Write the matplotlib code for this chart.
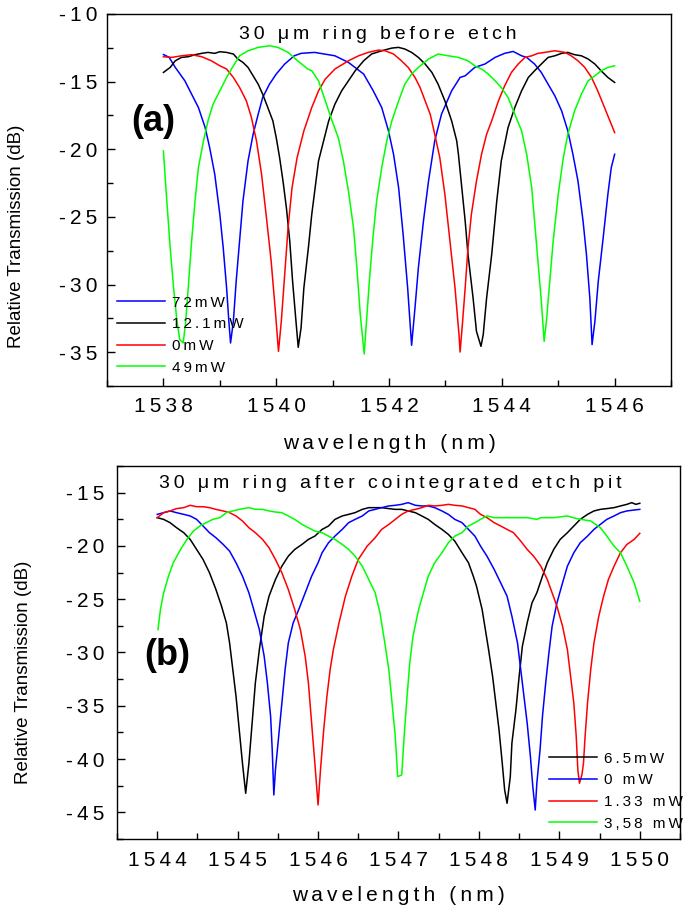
import numpy as np
import matplotlib
matplotlib.use('Agg')
import matplotlib.pyplot as plt
from matplotlib.ticker import MultipleLocator, FuncFormatter

plt.rcParams['font.family'] = ['Liberation Sans', 'DejaVu Sans']

# ---- data: (wavelength nm, transmission dB) ----
# panel (a): 30 um ring before etch
a_72mW = [(1538.00, -13.0), (1538.10, -13.2), (1538.21, -13.95), (1538.38, -14.94), (1538.50, -15.93),
          (1538.62, -16.91), (1538.74, -18.40), (1538.82, -19.88), (1538.91, -21.85), (1539.00, -24.81),
          (1539.06, -27.28), (1539.12, -30.25), (1539.16, -32.72), (1539.19, -34.32), (1539.24, -32.72),
          (1539.29, -29.75), (1539.35, -26.79), (1539.41, -23.83), (1539.50, -20.86), (1539.59, -18.89),
          (1539.68, -17.41), (1539.76, -16.17), (1539.88, -15.19), (1540.00, -14.44), (1540.15, -13.70),
          (1540.32, -13.09), (1540.44, -12.91), (1540.68, -12.84), (1541.04, -13.09), (1541.28, -13.58),
          (1541.55, -14.44), (1541.72, -15.68), (1541.87, -16.91), (1541.99, -18.64), (1542.08, -20.37),
          (1542.17, -22.84), (1542.25, -26.30), (1542.33, -30.25), (1542.40, -34.49), (1542.46, -31.73),
          (1542.52, -28.77), (1542.61, -25.31), (1542.70, -22.35), (1542.81, -19.38), (1542.93, -17.41),
          (1543.11, -15.68), (1543.26, -14.69), (1543.35, -14.57), (1543.52, -13.95), (1543.70, -13.70),
          (1543.88, -13.21), (1544.05, -12.91), (1544.20, -12.77), (1544.35, -13.09), (1544.44, -13.21),
          (1544.58, -13.70), (1544.70, -14.32), (1544.82, -15.19), (1544.94, -16.05), (1545.06, -17.16),
          (1545.17, -18.64), (1545.26, -20.37), (1545.35, -22.35), (1545.44, -25.31), (1545.50, -27.78),
          (1545.56, -30.99), (1545.60, -34.44), (1545.65, -32.72), (1545.71, -29.75), (1545.79, -26.79),
          (1545.88, -23.33), (1545.94, -21.36), (1546.00, -20.37)]

a_12mW = [(1538.00, -14.32), (1538.12, -13.95), (1538.21, -13.46), (1538.32, -13.21), (1538.44, -13.16),
          (1538.56, -13.01), (1538.68, -12.91), (1538.79, -12.84), (1538.91, -12.91), (1539.00, -12.79),
          (1539.12, -12.84), (1539.24, -12.96), (1539.32, -13.33), (1539.41, -13.58), (1539.50, -13.95),
          (1539.59, -14.57), (1539.68, -15.19), (1539.76, -15.93), (1539.85, -16.91), (1539.94, -17.90),
          (1540.00, -19.14), (1540.06, -20.62), (1540.12, -22.35), (1540.18, -24.32), (1540.24, -26.79),
          (1540.29, -29.75), (1540.35, -32.72), (1540.39, -34.64), (1540.44, -33.21), (1540.49, -30.25),
          (1540.57, -27.28), (1540.63, -24.81), (1540.69, -22.84), (1540.75, -20.86), (1540.84, -19.38),
          (1540.93, -17.90), (1541.04, -16.67), (1541.16, -15.68), (1541.28, -14.94), (1541.40, -14.20),
          (1541.55, -13.46), (1541.69, -12.96), (1541.87, -12.72), (1542.05, -12.52), (1542.17, -12.47),
          (1542.28, -12.59), (1542.40, -12.84), (1542.52, -13.21), (1542.64, -13.70), (1542.76, -14.32),
          (1542.87, -15.19), (1542.99, -16.42), (1543.11, -17.90), (1543.20, -19.38), (1543.23, -20.37),
          (1543.29, -22.84), (1543.35, -25.31), (1543.40, -27.78), (1543.49, -30.99), (1543.55, -33.46),
          (1543.63, -34.57), (1543.67, -33.70), (1543.73, -30.99), (1543.82, -27.78), (1543.91, -23.83),
          (1543.99, -20.86), (1544.11, -18.40), (1544.23, -16.91), (1544.35, -15.68), (1544.47, -14.69),
          (1544.58, -14.20), (1544.70, -13.70), (1544.82, -13.21), (1544.94, -13.09), (1545.06, -12.91),
          (1545.17, -12.84), (1545.29, -13.01), (1545.41, -13.09), (1545.53, -13.33), (1545.65, -13.70),
          (1545.76, -14.20), (1545.88, -14.69), (1546.00, -15.06)]

a_0mW = [(1538.00, -13.16), (1538.15, -13.21), (1538.32, -13.09), (1538.50, -13.01), (1538.68, -13.16),
         (1538.85, -13.46), (1539.00, -13.83), (1539.12, -14.07), (1539.24, -14.69), (1539.35, -15.43),
         (1539.47, -16.42), (1539.56, -17.65), (1539.65, -19.38), (1539.74, -21.85), (1539.82, -24.81),
         (1539.91, -28.27), (1539.98, -31.73), (1540.04, -34.94), (1540.09, -32.72), (1540.15, -29.26),
         (1540.21, -25.80), (1540.28, -22.84), (1540.37, -20.62), (1540.49, -18.64), (1540.63, -16.91),
         (1540.75, -15.68), (1540.87, -14.81), (1541.04, -14.07), (1541.28, -13.46), (1541.46, -13.09),
         (1541.63, -12.84), (1541.81, -12.67), (1541.93, -12.72), (1542.08, -12.96), (1542.22, -13.46),
         (1542.34, -13.95), (1542.46, -14.69), (1542.55, -15.43), (1542.64, -16.42), (1542.73, -17.41),
         (1542.81, -18.89), (1542.90, -20.62), (1542.99, -23.33), (1543.08, -26.79), (1543.17, -30.25),
         (1543.24, -33.70), (1543.26, -34.99), (1543.30, -32.96), (1543.35, -30.25), (1543.40, -27.28),
         (1543.46, -24.81), (1543.55, -22.35), (1543.64, -20.37), (1543.73, -18.89), (1543.82, -17.90),
         (1543.94, -16.42), (1544.05, -15.31), (1544.17, -14.32), (1544.29, -13.70), (1544.41, -13.21),
         (1544.53, -13.09), (1544.64, -12.91), (1544.76, -12.84), (1544.94, -12.72), (1545.12, -12.84),
         (1545.23, -13.09), (1545.35, -13.46), (1545.47, -13.95), (1545.59, -14.69), (1545.70, -15.68),
         (1545.82, -16.91), (1545.94, -18.15), (1546.00, -18.77)]

a_49mW = [(1538.00, -20.12), (1538.06, -23.83), (1538.12, -27.28), (1538.18, -30.25), (1538.24, -32.72),
          (1538.29, -34.07), (1538.35, -34.32), (1538.39, -32.96), (1538.44, -30.25), (1538.50, -26.79),
          (1538.56, -23.83), (1538.62, -21.36), (1538.71, -19.38), (1538.79, -17.90), (1538.88, -16.67),
          (1539.00, -15.68), (1539.12, -14.69), (1539.24, -13.83), (1539.35, -13.09), (1539.50, -12.72),
          (1539.68, -12.47), (1539.88, -12.35), (1540.03, -12.47), (1540.21, -12.84), (1540.38, -13.46),
          (1540.56, -14.07), (1540.63, -14.20), (1540.75, -14.94), (1540.87, -16.42), (1540.99, -17.90),
          (1541.10, -19.14), (1541.19, -20.86), (1541.28, -23.09), (1541.37, -25.80), (1541.43, -28.77),
          (1541.49, -32.22), (1541.56, -35.14), (1541.60, -32.72), (1541.66, -29.26), (1541.72, -26.30),
          (1541.78, -23.83), (1541.87, -21.36), (1541.96, -19.38), (1542.05, -17.90), (1542.17, -16.42),
          (1542.28, -15.19), (1542.40, -14.44), (1542.52, -13.95), (1542.70, -13.33), (1542.87, -12.96),
          (1543.05, -13.09), (1543.23, -13.21), (1543.40, -13.46), (1543.52, -13.83), (1543.64, -14.07),
          (1543.76, -14.44), (1543.88, -14.94), (1543.99, -15.43), (1544.11, -16.17), (1544.23, -17.41),
          (1544.35, -18.64), (1544.44, -20.37), (1544.53, -22.84), (1544.58, -25.31), (1544.64, -28.27),
          (1544.70, -31.23), (1544.75, -34.20), (1544.79, -32.72), (1544.85, -29.75), (1544.91, -26.79),
          (1545.00, -23.33), (1545.09, -20.62), (1545.17, -18.89), (1545.29, -17.16), (1545.41, -15.93),
          (1545.53, -14.94), (1545.65, -14.57), (1545.76, -14.20), (1545.88, -13.95), (1546.00, -13.83)]

# panel (b): 30 um ring after cointegrated etch pit
b_6p5mW = [(1544.00, -17.35), (1544.08, -17.51), (1544.16, -17.82), (1544.24, -18.29), (1544.33, -18.76),
           (1544.41, -19.39), (1544.49, -20.33), (1544.57, -21.27), (1544.65, -22.52), (1544.73, -24.09),
           (1544.80, -25.66), (1544.86, -27.23), (1544.90, -29.11), (1544.94, -31.61), (1544.98, -34.12),
           (1545.02, -37.26), (1545.06, -40.39), (1545.10, -43.21), (1545.14, -40.39), (1545.18, -36.63),
           (1545.22, -32.87), (1545.27, -29.73), (1545.33, -26.60), (1545.39, -24.72), (1545.47, -23.15),
           (1545.55, -21.90), (1545.63, -20.96), (1545.71, -20.33), (1545.80, -19.86), (1545.88, -19.39),
           (1545.96, -19.08), (1546.05, -18.45), (1546.13, -18.13), (1546.21, -17.51), (1546.30, -17.19),
           (1546.38, -17.04), (1546.46, -16.88), (1546.55, -16.57), (1546.63, -16.41), (1546.71, -16.41),
           (1546.79, -16.41), (1546.88, -16.50), (1546.96, -16.57), (1547.04, -16.57), (1547.12, -16.72),
           (1547.21, -16.88), (1547.29, -17.19), (1547.37, -17.51), (1547.45, -17.98), (1547.54, -18.45),
           (1547.62, -18.92), (1547.70, -19.55), (1547.79, -20.64), (1547.87, -21.58), (1547.93, -22.84),
           (1547.97, -23.78), (1548.04, -25.97), (1548.08, -27.85), (1548.12, -29.73), (1548.17, -32.24),
           (1548.21, -34.75), (1548.25, -37.26), (1548.29, -40.39), (1548.32, -42.90), (1548.35, -44.15),
           (1548.39, -41.65), (1548.41, -38.51), (1548.46, -35.38), (1548.50, -32.24), (1548.54, -29.42),
           (1548.60, -27.23), (1548.66, -25.34), (1548.72, -24.40), (1548.79, -22.84), (1548.85, -21.58),
           (1548.93, -20.33), (1549.01, -19.39), (1549.10, -18.76), (1549.18, -18.13), (1549.26, -17.51),
           (1549.35, -17.04), (1549.43, -16.72), (1549.51, -16.57), (1549.59, -16.50), (1549.68, -16.41),
           (1549.76, -16.25), (1549.84, -16.10), (1549.90, -15.94), (1549.95, -16.10), (1550.00, -16.00)]

b_0mW = [(1544.00, -17.04), (1544.08, -16.88), (1544.16, -16.72), (1544.24, -16.88), (1544.33, -17.04),
         (1544.41, -17.19), (1544.49, -17.51), (1544.57, -18.13), (1544.65, -18.76), (1544.73, -19.23),
         (1544.82, -19.86), (1544.90, -20.49), (1544.98, -21.58), (1545.06, -22.84), (1545.14, -24.40),
         (1545.20, -25.97), (1545.27, -27.85), (1545.33, -30.36), (1545.37, -32.87), (1545.41, -36.00),
         (1545.43, -39.14), (1545.45, -43.37), (1545.47, -41.02), (1545.51, -37.88), (1545.55, -34.75),
         (1545.59, -31.61), (1545.63, -29.11), (1545.69, -27.23), (1545.76, -25.97), (1545.84, -24.40),
         (1545.92, -22.84), (1546.00, -21.58), (1546.05, -20.64), (1546.13, -19.70), (1546.21, -19.08),
         (1546.30, -18.45), (1546.38, -17.82), (1546.46, -17.51), (1546.55, -17.19), (1546.63, -16.72),
         (1546.71, -16.57), (1546.79, -16.41), (1546.88, -16.25), (1546.96, -16.19), (1547.04, -16.10),
         (1547.12, -15.94), (1547.21, -16.19), (1547.29, -16.25), (1547.37, -16.25), (1547.45, -16.41),
         (1547.54, -16.72), (1547.62, -17.04), (1547.70, -17.51), (1547.79, -17.82), (1547.87, -18.45),
         (1547.95, -19.08), (1548.02, -20.02), (1548.10, -20.96), (1548.19, -22.21), (1548.27, -23.46),
         (1548.35, -24.72), (1548.41, -26.60), (1548.48, -29.11), (1548.52, -31.61), (1548.56, -34.12),
         (1548.60, -36.63), (1548.64, -39.76), (1548.67, -42.59), (1548.70, -44.78), (1548.72, -42.27),
         (1548.76, -39.14), (1548.79, -36.00), (1548.83, -32.87), (1548.87, -30.05), (1548.91, -27.54),
         (1548.97, -25.34), (1549.04, -23.46), (1549.10, -21.90), (1549.18, -20.64), (1549.26, -19.70),
         (1549.35, -19.08), (1549.43, -18.45), (1549.51, -17.98), (1549.59, -17.51), (1549.68, -17.19),
         (1549.76, -16.88), (1549.84, -16.72), (1549.93, -16.63), (1550.00, -16.57)]

b_1p33mW = [(1544.00, -17.35), (1544.08, -16.88), (1544.16, -16.72), (1544.24, -16.50), (1544.33, -16.41),
            (1544.41, -16.19), (1544.49, -16.32), (1544.57, -16.32), (1544.65, -16.41), (1544.73, -16.57),
            (1544.82, -16.72), (1544.90, -16.88), (1544.98, -17.19), (1545.06, -17.66), (1545.14, -18.29),
            (1545.22, -18.76), (1545.31, -19.39), (1545.39, -20.17), (1545.47, -21.27), (1545.55, -22.52),
            (1545.63, -24.09), (1545.71, -25.97), (1545.78, -27.85), (1545.84, -30.36), (1545.88, -32.87),
            (1545.92, -36.63), (1545.96, -40.39), (1546.00, -44.31), (1546.03, -41.02), (1546.07, -37.26),
            (1546.11, -34.12), (1546.15, -31.61), (1546.19, -29.73), (1546.26, -27.23), (1546.34, -24.72),
            (1546.42, -22.84), (1546.50, -21.27), (1546.61, -20.02), (1546.71, -19.23), (1546.79, -18.45),
            (1546.88, -17.98), (1546.96, -17.51), (1547.04, -17.04), (1547.12, -16.72), (1547.21, -16.57),
            (1547.29, -16.41), (1547.37, -16.19), (1547.45, -16.25), (1547.54, -16.19), (1547.62, -16.10),
            (1547.70, -16.19), (1547.79, -16.25), (1547.87, -16.41), (1547.95, -16.57), (1548.02, -17.04),
            (1548.10, -17.35), (1548.19, -17.82), (1548.27, -18.13), (1548.35, -18.45), (1548.43, -18.76),
            (1548.52, -19.55), (1548.60, -20.33), (1548.68, -20.96), (1548.77, -21.90), (1548.85, -23.15),
            (1548.91, -24.40), (1548.97, -25.66), (1549.04, -27.54), (1549.10, -29.73), (1549.14, -32.24),
            (1549.18, -34.75), (1549.21, -37.88), (1549.23, -41.02), (1549.25, -42.27), (1549.28, -41.49),
            (1549.30, -40.39), (1549.32, -37.88), (1549.35, -34.75), (1549.39, -31.61), (1549.43, -29.11),
            (1549.49, -26.60), (1549.55, -24.72), (1549.61, -23.15), (1549.68, -21.90), (1549.76, -20.64),
            (1549.84, -19.86), (1549.93, -19.39), (1550.00, -18.82)]

b_3p58mW = [(1544.01, -27.85), (1544.04, -25.97), (1544.08, -24.40), (1544.14, -22.84), (1544.20, -21.58),
            (1544.29, -20.33), (1544.37, -19.39), (1544.45, -18.61), (1544.53, -18.13), (1544.61, -17.82),
            (1544.69, -17.51), (1544.78, -17.35), (1544.86, -16.88), (1544.94, -16.72), (1545.02, -16.57),
            (1545.14, -16.41), (1545.22, -16.57), (1545.31, -16.57), (1545.39, -16.72), (1545.47, -16.82),
            (1545.55, -16.88), (1545.63, -17.19), (1545.71, -17.51), (1545.80, -17.98), (1545.88, -18.29),
            (1545.96, -18.61), (1546.05, -18.76), (1546.13, -19.08), (1546.21, -19.39), (1546.30, -19.86),
            (1546.38, -20.33), (1546.46, -20.96), (1546.55, -21.90), (1546.63, -23.15), (1546.71, -24.40),
            (1546.77, -26.29), (1546.83, -29.11), (1546.88, -31.61), (1546.92, -34.75), (1546.96, -37.88),
            (1546.99, -41.65), (1547.04, -41.49), (1547.07, -37.88), (1547.10, -34.75), (1547.14, -30.99),
            (1547.18, -28.48), (1547.25, -25.97), (1547.31, -24.40), (1547.37, -22.84), (1547.45, -21.58),
            (1547.54, -20.64), (1547.62, -19.70), (1547.70, -19.08), (1547.79, -18.76), (1547.87, -18.13),
            (1547.95, -17.82), (1548.02, -17.51), (1548.10, -17.19), (1548.19, -17.35), (1548.27, -17.35),
            (1548.43, -17.35), (1548.60, -17.35), (1548.72, -17.51), (1548.77, -17.35), (1548.93, -17.35),
            (1549.10, -17.19), (1549.22, -17.45), (1549.39, -17.66), (1549.51, -18.29), (1549.59, -19.08),
            (1549.68, -20.02), (1549.76, -20.64), (1549.84, -21.90), (1549.93, -23.46), (1550.00, -25.19)]

a_series = [(a_72mW, 'blue', '72mW'), (a_12mW, 'black', '12.1mW'),
            (a_0mW, 'red', '0mW'), (a_49mW, '#00ff00', '49mW')]
b_series = [(b_6p5mW, 'black', '6.5mW'), (b_0mW, 'blue', '0 mW'),
            (b_1p33mW, 'red', '1.33 mW'), (b_3p58mW, '#00ff00', '3,58 mW')]


def spaced(s):
    # the original uses wide letter spacing
    return '\u2009'.join(s)


tick_fmt = FuncFormatter(lambda v, p: spaced('%g' % v))

fig = plt.figure(figsize=(6.83, 9.08), dpi=100)
ax1 = fig.add_axes([0.1567, 0.5749, 0.8258, 0.4097])
ax2 = fig.add_axes([0.1713, 0.0760, 0.8243, 0.4108])

for ax, series in [(ax1, a_series), (ax2, b_series)]:
    for pts, col, lab in series:
        arr = np.array(pts)
        ax.plot(arr[:, 0], arr[:, 1], color=col, lw=1.1, label=spaced(lab))
    ax.tick_params(which='both', direction='in', top=False, right=False,
                   labelsize=15, width=1)
    ax.tick_params(which='major', length=6)
    ax.tick_params(which='minor', length=4)
    ax.xaxis.set_major_formatter(tick_fmt)
    ax.yaxis.set_major_formatter(tick_fmt)
    for sp in ax.spines.values():
        sp.set_linewidth(1.0)

# panel (a)
ax1.set_xlim(1537, 1547)
ax1.set_ylim(-37.5, -10)
ax1.xaxis.set_major_locator(MultipleLocator(2))
ax1.xaxis.set_minor_locator(MultipleLocator(1))
ax1.yaxis.set_major_locator(MultipleLocator(5))
ax1.yaxis.set_minor_locator(MultipleLocator(2.5))
ax1.tick_params(axis='x', which='both', pad=8)
ax1.tick_params(axis='y', which='both', pad=7)
ax1.set_xlabel(spaced('wavelength (nm)'), fontsize=15, labelpad=13)
ax1.set_ylabel('Relative Transmission (dB)', fontsize=13.5, va='center')
ax1.yaxis.set_label_coords(-0.161, 0.403)
ax1.text(0.4805, 0.946, spaced('30 μm ring before etch'), transform=ax1.transAxes,
         ha='center', va='center', fontsize=14)
ax1.text(0.0816, 0.712, '(a)', transform=ax1.transAxes, ha='center', va='center',
         fontsize=26, fontweight='bold')
ax1.legend(loc='upper left', bbox_to_anchor=(0.0172, 0.243), frameon=False,
           fontsize=11, handlelength=3.15, handletextpad=0.44, labelspacing=0.5,
           borderpad=0, borderaxespad=0)

# panel (b)
ax2.set_xlim(1543.5, 1550.5)
ax2.set_ylim(-47.5, -12.5)
ax2.xaxis.set_major_locator(MultipleLocator(1))
ax2.xaxis.set_minor_locator(MultipleLocator(0.5))
ax2.yaxis.set_major_locator(MultipleLocator(5))
ax2.yaxis.set_minor_locator(MultipleLocator(2.5))
ax2.tick_params(axis='x', which='both', pad=9)
ax2.tick_params(axis='y', which='both', pad=9)
ax2.set_xlabel(spaced('wavelength (nm)'), fontsize=15, labelpad=11)
ax2.set_ylabel('Relative Transmission (dB)', fontsize=13.5, va='center')
ax2.yaxis.set_label_coords(-0.166, 0.448)
ax2.text(0.485, 0.954, spaced('30 μm ring after cointegrated etch pit'), transform=ax2.transAxes,
         ha='center', va='center', fontsize=14)
ax2.text(0.0888, 0.491, '(b)', transform=ax2.transAxes, ha='center', va='center',
         fontsize=26, fontweight='bold')
ax2.legend(loc='upper left', bbox_to_anchor=(0.767, 0.234), frameon=False,
           fontsize=11, handlelength=3.15, handletextpad=0.44, labelspacing=0.5,
           borderpad=0, borderaxespad=0)

fig.savefig('out.png', dpi=100)
